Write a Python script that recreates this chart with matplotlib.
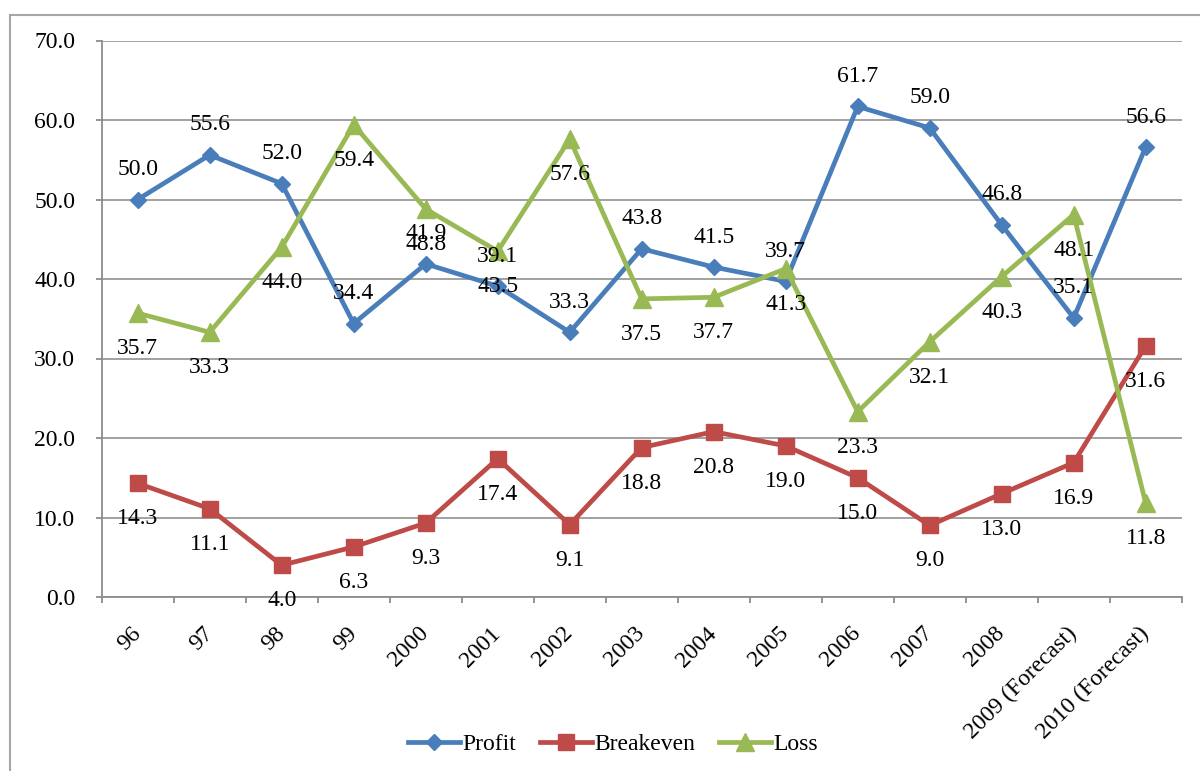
import matplotlib
matplotlib.use('Agg')
import matplotlib.pyplot as plt
from matplotlib.patches import Rectangle

# data
years = ['96', '97', '98', '99', '2000', '2001', '2002', '2003', '2004', '2005',
         '2006', '2007', '2008', '2009 (Forecast)', '2010 (Forecast)']
profit = [50.0, 55.6, 52.0, 34.4, 41.9, 39.1, 33.3, 43.8, 41.5, 39.7, 61.7, 59.0, 46.8, 35.1, 56.6]
breakeven = [14.3, 11.1, 4.0, 6.3, 9.3, 17.4, 9.1, 18.8, 20.8, 19.0, 15.0, 9.0, 13.0, 16.9, 31.6]
loss = [35.7, 33.3, 44.0, 59.4, 48.8, 43.5, 57.6, 37.5, 37.7, 41.3, 23.3, 32.1, 40.3, 48.1, 11.8]

plt.rcParams['font.family'] = ['Liberation Serif', 'DejaVu Serif']
plt.rcParams['font.size'] = 17

W, H = 1200, 771
fig = plt.figure(figsize=(W / 100, H / 100), dpi=100)
ax = fig.add_axes([101.7 / W, 1 - 597 / H, 1080 / W, (597 - 40.5) / H])

# chart area border (only top and left visible in the crop)
fig.patches.append(Rectangle((10 / W, -0.1), 1.2, 1 - 15 / H + 0.1, transform=fig.transFigure,
                             fill=False, edgecolor='#a6a6a6', linewidth=1.5))

x = list(range(len(years)))
blue, red, green = '#4a7ebb', '#be4b48', '#98b954'
ax.plot(x, profit, color=blue, lw=3.4, marker='D', ms=8.2, label='Profit', zorder=3)
ax.plot(x, breakeven, color=red, lw=3.4, marker='s', ms=11.5, label='Breakeven', zorder=3)
ax.plot(x, loss, color=green, lw=3.4, marker='^', ms=13, label='Loss', zorder=3)

for i in x:
    ax.annotate('{:.1f}'.format(profit[i]), (i, profit[i]), xytext=(0, 24.5),
                textcoords='offset pixels', ha='center', va='baseline', zorder=5)
    ax.annotate('{:.1f}'.format(breakeven[i]), (i, breakeven[i]), xytext=(0, -41),
                textcoords='offset pixels', ha='center', va='baseline', zorder=5)
    ax.annotate('{:.1f}'.format(loss[i]), (i, loss[i]), xytext=(0, -41),
                textcoords='offset pixels', ha='center', va='baseline', zorder=5)

ax.set_xlim(-0.5, len(years) - 0.5)
ax.set_ylim(0, 70)
ax.set_yticks(range(0, 71, 10))
ax.set_yticklabels(['{:.1f}'.format(v) for v in range(0, 71, 10)])
ax.yaxis.grid(True, color='#9a9a9a', linewidth=1.3)
ax.set_axisbelow(True)

ax.set_xticks(x)
ax.set_xticklabels(years, rotation=45, ha='right', va='center', rotation_mode='anchor')
ax.set_xticks([v - 0.5 for v in range(len(years) + 1)], minor=True)
ax.tick_params(axis='x', which='major', length=0, pad=24)
ax.tick_params(axis='x', which='minor', length=4.5, width=1.3, color='#8c8c8c', direction='out')
ax.tick_params(axis='y', length=4, width=1.3, color='#8c8c8c', pad=15)

for s in ['top', 'right']:
    ax.spines[s].set_visible(False)
for s in ['left', 'bottom']:
    ax.spines[s].set_color('#8c8c8c')
    ax.spines[s].set_linewidth(1.3)

fig.legend(loc='center', bbox_to_anchor=(613 / W, 1 - 744 / H), ncol=3, frameon=False,
           handlelength=2.2, handletextpad=0.1, columnspacing=1.0, borderaxespad=0)

fig.savefig('out.png', dpi=100)
